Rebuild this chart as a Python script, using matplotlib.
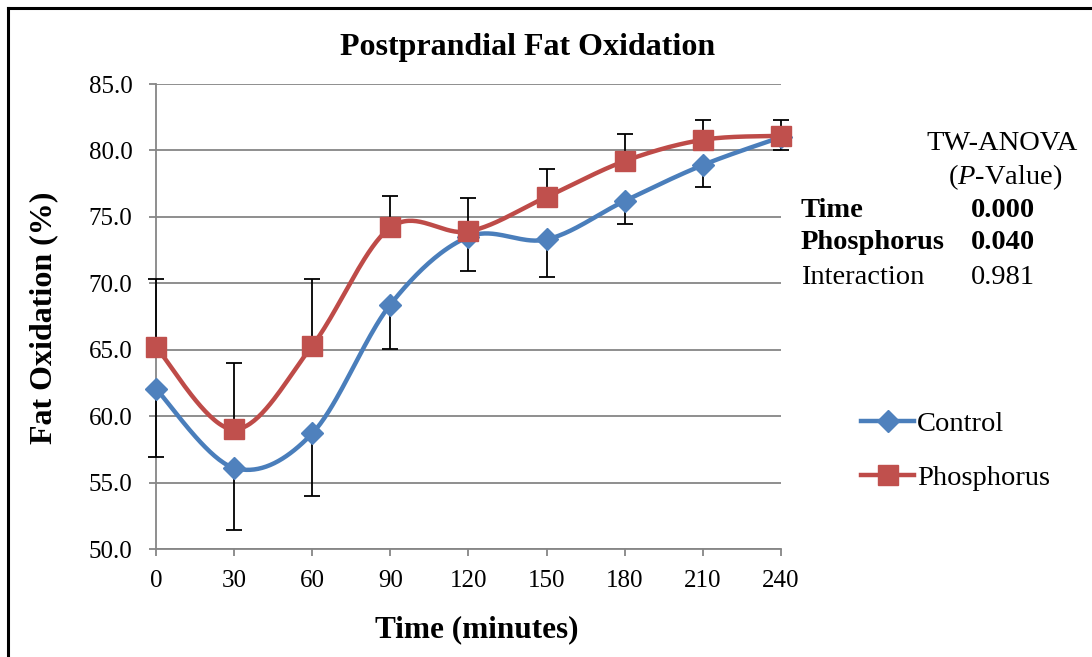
import numpy as np
import matplotlib.pyplot as plt
from matplotlib.lines import Line2D

# data
time_min = [0, 30, 60, 90, 120, 150, 180, 210, 240]
control = [62.05, 56.1, 58.7, 68.4, 73.5, 73.3, 76.2, 78.9, 81.0]
phosphorus = [65.2, 59.0, 65.3, 74.2, 73.9, 76.5, 79.2, 80.8, 81.1]
control_err_down = [5.15, 4.7, 4.7, 3.35, 2.6, 2.8, 1.7, 1.65, 1.0]
phosphorus_err_up = [5.1, 5.0, 5.0, 2.35, 2.5, 2.1, 2.0, 1.5, 1.2]
yticks = [50.0, 55.0, 60.0, 65.0, 70.0, 75.0, 80.0, 85.0]

anova_rows = ['Time', 'Phosphorus', 'Interaction']
anova_p = ['0.000', '0.040', '0.981']

W, H = 1092, 657
FONT = 'Liberation Serif'
plt.rcParams['font.family'] = FONT
plt.rcParams['mathtext.fontset'] = 'custom'
plt.rcParams['mathtext.rm'] = FONT
plt.rcParams['mathtext.it'] = FONT + ':italic'


def smooth(x, y, n=40):
    '''
    Excel style smoothed line (Catmull-Rom through the points).
    '''
    x = np.asarray(x, float)
    y = np.asarray(y, float)
    px = np.concatenate([[x[0]], x, [x[-1]]])
    py = np.concatenate([[y[0]], y, [y[-1]]])
    xs, ys = [], []
    t = np.linspace(0, 1, n)
    for i in range(1, len(px) - 2):
        b0x, b0y = px[i], py[i]
        b3x, b3y = px[i + 1], py[i + 1]
        b1x = b0x + (px[i + 1] - px[i - 1]) / 6
        b1y = b0y + (py[i + 1] - py[i - 1]) / 6
        b2x = b3x - (px[i + 2] - px[i]) / 6
        b2y = b3y - (py[i + 2] - py[i]) / 6
        xs.append((1-t)**3*b0x + 3*(1-t)**2*t*b1x + 3*(1-t)*t**2*b2x + t**3*b3x)
        ys.append((1-t)**3*b0y + 3*(1-t)**2*t*b1y + 3*(1-t)*t**2*b2y + t**3*b3y)
    return np.concatenate(xs), np.concatenate(ys)


def fx(px):
    return px / W


def fy(py):
    return 1 - py / H


fig = plt.figure(figsize=(W / 100, H / 100), dpi=100)
ax = fig.add_axes([fx(156), fy(549), fx(781) - fx(156), fy(84) - fy(549)])

blue_line, blue_mk = '#4A7EBB', '#4F81BD'
red_line, red_mk = '#BE4B48', '#C0504D'
grid_c = '#868686'
LW = 3.2
MS_D, MS_S = 11, 14

zero = [0] * len(time_min)
for vals, err in [(control, [control_err_down, zero]),
                  (phosphorus, [zero, phosphorus_err_up])]:
    eb = ax.errorbar(time_min, vals, yerr=err, fmt='none', ecolor='k',
                     elinewidth=1.3, capsize=6, capthick=1.3, zorder=2.7)
    for art in eb.lines[1] + eb.lines[2]:
        art.set_clip_on(False)

sx, sy = smooth(time_min, control)
ax.plot(sx, sy, color=blue_line, lw=LW, zorder=3, solid_capstyle='round', clip_on=False)
ax.plot(time_min, control, ls='none', marker='D', ms=MS_D, color=blue_mk,
        zorder=4, clip_on=False)
sx, sy = smooth(time_min, phosphorus)
ax.plot(sx, sy, color=red_line, lw=LW, zorder=5, solid_capstyle='round', clip_on=False)
ax.plot(time_min, phosphorus, ls='none', marker='s', ms=MS_S, color=red_mk,
        zorder=6, clip_on=False)

ax.set_xlim(0, 240)
ax.set_ylim(50, 85)
ax.set_xticks(time_min)
ax.set_xticklabels([str(t) for t in time_min])
ax.set_yticks(yticks)
ax.set_yticklabels([f'{v:.1f}' for v in yticks])
ax.tick_params(axis='both', direction='out', length=5, width=1.3, color=grid_c,
               labelsize=18)
ax.tick_params(axis='y', pad=12)
ax.tick_params(axis='x', pad=10)
ax.yaxis.grid(True, color=grid_c, lw=1.3)
ax.set_axisbelow(True)
for s in ['top', 'right']:
    ax.spines[s].set_visible(False)
for s in ['left', 'bottom']:
    ax.spines[s].set_color(grid_c)
    ax.spines[s].set_linewidth(1.3)
ax.patch.set_alpha(0)

fig.text(fx(528), fy(47), 'Postprandial Fat Oxidation', ha='center', va='center',
         fontsize=23, fontweight='bold')
fig.text(fx(477), fy(630), 'Time (minutes)', ha='center', va='center',
         fontsize=22.5, fontweight='bold')
fig.text(fx(44), fy(318), 'Fat Oxidation (%)', ha='center', va='center',
         fontsize=23, fontweight='bold', rotation=90)

# legend
handles = [Line2D([], [], color=blue_line, lw=LW, marker='D', ms=MS_D, mfc=blue_mk, mec=blue_mk),
           Line2D([], [], color=red_line, lw=LW, marker='s', ms=MS_S, mfc=red_mk, mec=red_mk)]
fig.legend(handles, ['Control', 'Phosphorus'], loc='center left',
           bbox_to_anchor=(fx(847), fy(451)), frameon=False, fontsize=20.5,
           handlelength=1.85, handletextpad=0.1, labelspacing=1.0, borderpad=0)

# ANOVA table
fig.text(fx(1078), fy(143), 'TW-ANOVA', ha='right', va='center', fontsize=20.5)
fig.text(fx(1063), fy(177), r'($\it{P}$-Value)', ha='right', va='center', fontsize=20.5)
row_y = [211, 243, 277]
for name, p, y in zip(anova_rows, anova_p, row_y):
    wt = 'normal' if name == 'Interaction' else 'bold'
    fig.text(fx(801), fy(y), name, ha='left', va='center', fontsize=20.5, fontweight=wt)
    fig.text(fx(1035), fy(y), p, ha='right', va='center', fontsize=20.5, fontweight=wt)

# frame around the chart (only top and left edges fall inside the picture)
fig.add_artist(Line2D([fx(8), fx(8)], [fy(8), 0], color='k', lw=2.2))
fig.add_artist(Line2D([fx(8), 1], [fy(8), fy(8)], color='k', lw=2.2))

fig.savefig('out.png', dpi=100)
